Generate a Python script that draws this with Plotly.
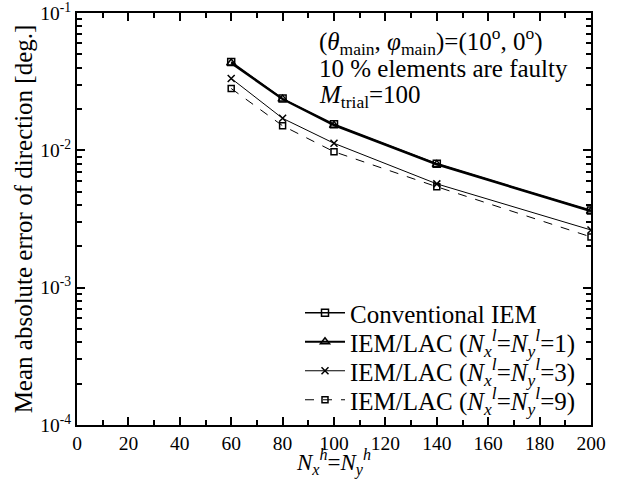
import plotly.graph_objects as go

x_vals = [60, 80, 100, 140, 200]
conventional = [0.0440, 0.0238, 0.0155, 0.0080, 0.00365]
lac1 = [0.0432, 0.0236, 0.0152, 0.0079, 0.00360]
lac3 = [0.0334, 0.0171, 0.01125, 0.0057, 0.00263]
lac9 = [0.0282, 0.0151, 0.00977, 0.00543, 0.00234]

names = [
    "Conventional IEM",
    "IEM/LAC (<i>N</i><sub><i>x</i></sub><sup><i>l</i></sup>=<i>N</i><sub><i>y</i></sub><sup><i>l</i></sup>=1)",
    "IEM/LAC (<i>N</i><sub><i>x</i></sub><sup><i>l</i></sup>=<i>N</i><sub><i>y</i></sub><sup><i>l</i></sup>=3)",
    "IEM/LAC (<i>N</i><sub><i>x</i></sub><sup><i>l</i></sup>=<i>N</i><sub><i>y</i></sub><sup><i>l</i></sup>=9)",
]
y_tick_vals = [1e-4, 1e-3, 1e-2, 1e-1]
y_tick_text = ["10<sup>-4</sup>", "10<sup>-3</sup>", "10<sup>-2</sup>", "10<sup>-1</sup>"]

FONT = "Liberation Serif, Times New Roman, serif"
fig = go.Figure()
styles = [
    (conventional, "square-open", 7, 1.6, "solid"),
    (lac1, "triangle-up-open", 8, 2.2, "solid"),
    (lac3, "x-thin-open", 7, 1.0, "solid"),
    (lac9, "square-open", 6, 1.0, "dash"),
]
legend_ids = ["legend", "legend2", "legend3", "legend4"]
for (ys, sym, ms, lw, dash), nm, lg in zip(styles, names, legend_ids):
    fig.add_trace(go.Scatter(
        x=x_vals, y=ys, name=nm, mode="lines+markers", legend=lg, showlegend=True,
        line=dict(color="black", width=lw, dash=dash),
        marker=dict(symbol=sym, size=ms, color="black", line=dict(color="black", width=1.5)),
    ))

axis_common = dict(
    showline=True, linecolor="black", linewidth=2, mirror="allticks",
    ticks="inside", tickcolor="black", showgrid=False, zeroline=False,
    automargin=False, ticklabeloverflow="allow",
    tickfont=dict(family=FONT, size=19.5, color="black"),
)
fig.update_xaxes(
    range=[0, 200], tickvals=list(range(0, 201, 20)), ticklen=8, tickwidth=1.5,
    minor=dict(tickvals=list(range(10, 200, 20)), ticks="inside", ticklen=5, tickcolor="black", tickwidth=1.5),
    title=dict(text="<i>N</i><sub><i>x</i></sub><sup><i>h</i></sup>=<i>N</i><sub><i>y</i></sub><sup><i>h</i></sup>",
               font=dict(family=FONT, size=23, color="black"), standoff=0),
    **axis_common,
)
fig.update_yaxes(
    type="log", range=[-4, -1], tickvals=y_tick_vals, ticktext=y_tick_text, ticklen=8, tickwidth=1.5,
    minor=dict(ticks="inside", ticklen=5, tickcolor="black", tickwidth=1.5, dtick="D1"),
    title=dict(text="Mean absolute error of direction [deg.]",
               font=dict(family=FONT, size=25, color="black"), standoff=0),
    **axis_common,
)

ann_font = dict(family=FONT, size=25, color="black")
annotations = [
    ("(<i>θ</i><sub>main</sub>, <i>φ</i><sub>main</sub>)=(10<sup>o</sup>, 0<sup>o</sup>)", 41),
    ("10 % elements are faulty", 68),
    ("<i>M</i><sub>trial</sub>=100", 96),
]
for txt, ypix in annotations:
    fig.add_annotation(
        text=txt, xref="paper", yref="paper", x=(317 - 77) / 514, y=(425 - ypix) / 412,
        xanchor="left", yanchor="middle", showarrow=False, font=ann_font,
    )

legend_rows = [313, 342, 371, 400]
legend_layout = {}
for lg, ypix in zip(legend_ids, legend_rows):
    legend_layout[lg] = dict(
        x=(300 - 77) / 514, y=(425 - ypix) / 412, xanchor="left", yanchor="middle",
        bgcolor="rgba(0,0,0,0)", borderwidth=0,
        font=dict(family=FONT, size=25, color="black"),
        itemwidth=40,
    )

fig.update_layout(
    width=623, height=479,
    margin=dict(l=77, r=32, t=13, b=54),
    paper_bgcolor="white", plot_bgcolor="white",
    showlegend=True,
    font=dict(family=FONT, size=19.5, color="black"),
    **legend_layout,
)
fig.write_html("out.html")
